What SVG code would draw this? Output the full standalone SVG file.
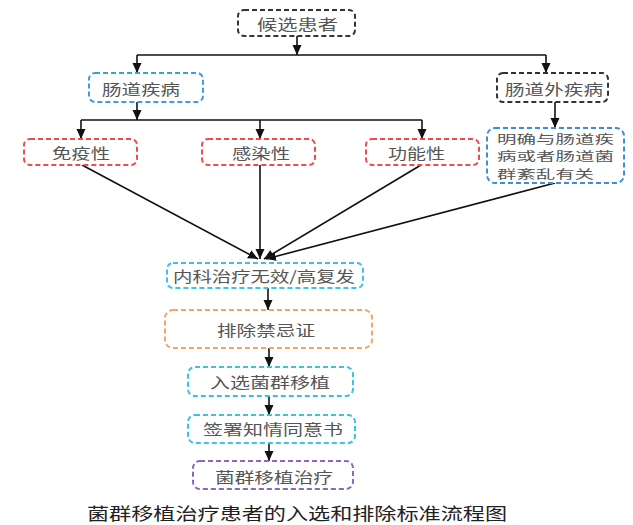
<svg xmlns="http://www.w3.org/2000/svg" width="633" height="525" viewBox="0 0 633 525">
<defs>
<marker id="ah" markerUnits="userSpaceOnUse" markerWidth="10" markerHeight="10" viewBox="0 0 10 10" refX="10" refY="5" orient="auto">
<path d="M0,0.5 L10,5 L0,9.5 Z" fill="#111"/>
</marker>
<style>
.box{fill:#fff;stroke-width:2;stroke-dasharray:5 3;}
.t{font-family:"Noto Sans CJK SC","Noto Sans",sans-serif;font-size:15px;fill:#555;dominant-baseline:central;}
.t2{font-family:"Noto Sans CJK SC","Noto Sans",sans-serif;font-size:12px;fill:#555;dominant-baseline:central;}
.cap{font-family:"Noto Sans CJK SC","Noto Sans",sans-serif;font-size:17px;fill:#222;dominant-baseline:central;}
.e{fill:none;stroke:#111;stroke-width:1.6;}
.ea{fill:none;stroke:#111;stroke-width:1.6;marker-end:url(#ah);}
</style>
</defs>
<rect width="633" height="525" fill="#fff"/>
<g id="connectors">
<path class="ea" d="M297,36 V55"/>
<path class="e" d="M137,55 H546"/>
<path class="ea" d="M137,55 V73"/>
<path class="ea" d="M546,55 V73"/>
<path class="ea" d="M137,102 V120"/>
<path class="e" d="M81,120 H422"/>
<path class="ea" d="M81,120 V139"/>
<path class="ea" d="M260,120 V139"/>
<path class="ea" d="M422,120 V139"/>
<path class="ea" d="M555,102 V128"/>
<path class="ea" d="M82,165 L258,259"/>
<path class="ea" d="M260,165 V259"/>
<path class="ea" d="M421,165 L264,259"/>
<path class="ea" d="M555,183 L266,259"/>
<path class="ea" d="M268,288 V310"/>
<path class="ea" d="M269,348 V367"/>
<path class="ea" d="M269,396 V415"/>
<path class="ea" d="M269,443 V461"/>
</g>
<g id="n_candidate">
<rect class="box" x="238" y="10" width="117" height="26" rx="6" stroke="#333"/>
<text class="t" x="257" y="23" textLength="81" lengthAdjust="spacingAndGlyphs">候选患者</text>
</g>
<g id="n_intestinal">
<rect class="box" x="89" y="73" width="114" height="29" rx="6" stroke="#3b9ee0"/>
<text class="t" x="102" y="88" textLength="78" lengthAdjust="spacingAndGlyphs">肠道疾病</text>
</g>
<g id="n_extraintestinal">
<rect class="box" x="497" y="73" width="111" height="29" rx="6" stroke="#333"/>
<text class="t" x="505" y="88" textLength="98" lengthAdjust="spacingAndGlyphs">肠道外疾病</text>
</g>
<g id="n_immune">
<rect class="box" x="24" y="139" width="113" height="26" rx="6" stroke="#f04a4a"/>
<text class="t" x="52" y="152" textLength="58" lengthAdjust="spacingAndGlyphs">免疫性</text>
</g>
<g id="n_infection">
<rect class="box" x="202" y="139" width="113" height="26" rx="6" stroke="#f04a4a"/>
<text class="t" x="232" y="152" textLength="58" lengthAdjust="spacingAndGlyphs">感染性</text>
</g>
<g id="n_functional">
<rect class="box" x="366" y="139" width="113" height="26" rx="6" stroke="#f04a4a"/>
<text class="t" x="388" y="152" textLength="57" lengthAdjust="spacingAndGlyphs">功能性</text>
</g>
<g id="n_related">
<rect class="box" x="487" y="128" width="137" height="55" rx="8" stroke="#3b8fd8"/>
<text class="t2" x="497" y="138" textLength="117" lengthAdjust="spacingAndGlyphs">明确与肠道疾</text>
<text class="t2" x="497" y="155.5" textLength="117" lengthAdjust="spacingAndGlyphs">病或者肠道菌</text>
<text class="t2" x="497" y="173" textLength="97" lengthAdjust="spacingAndGlyphs">群紊乱有关</text>
</g>
<g id="n_refractory">
<rect class="box" x="167" y="263" width="196" height="25" rx="6" stroke="#3bc3e3"/>
<text class="t" x="173" y="275" textLength="182" lengthAdjust="spacingAndGlyphs">内科治疗无效/高复发</text>
</g>
<g id="n_exclude">
<rect class="box" x="165" y="310" width="207" height="38" rx="8" stroke="#f7a465"/>
<text class="t" x="217" y="329" textLength="98" lengthAdjust="spacingAndGlyphs">排除禁忌证</text>
</g>
<g id="n_select">
<rect class="box" x="188" y="367" width="165" height="29" rx="7" stroke="#3bc3e3"/>
<text class="t" x="210" y="381" textLength="120" lengthAdjust="spacingAndGlyphs">入选菌群移植</text>
</g>
<g id="n_consent">
<rect class="box" x="188" y="415" width="167" height="28" rx="7" stroke="#3bc3e3"/>
<text class="t" x="203" y="428" textLength="140" lengthAdjust="spacingAndGlyphs">签署知情同意书</text>
</g>
<g id="n_fmt">
<rect class="box" x="193" y="461" width="160" height="28" rx="7" stroke="#8a68c0"/>
<text class="t" x="215" y="476" textLength="118" lengthAdjust="spacingAndGlyphs">菌群移植治疗</text>
</g>
<text class="cap" x="87" y="512" textLength="420" lengthAdjust="spacingAndGlyphs">菌群移植治疗患者的入选和排除标准流程图</text>
</svg>
